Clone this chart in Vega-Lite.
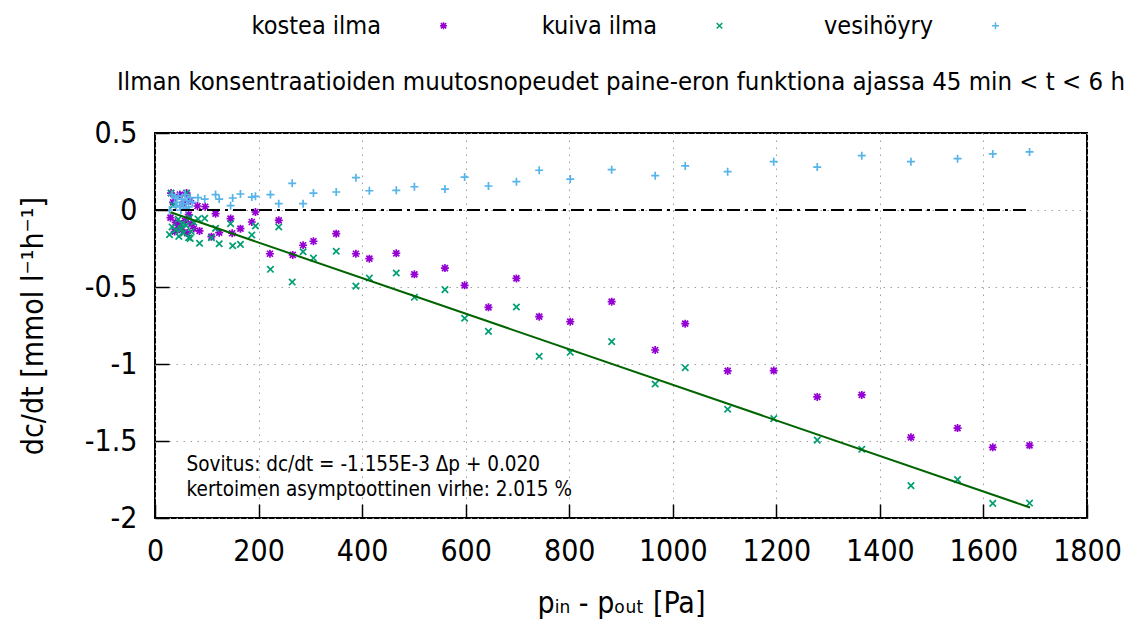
{
  "$schema": "https://vega.github.io/schema/vega-lite/v6.json",
  "width": 932,
  "height": 385,
  "autosize": {"type": "none"},
  "padding": {"left": 155, "top": 133, "right": 43, "bottom": 110},
  "background": "white",
  "title": {
    "text": "Ilman konsentraatioiden muutosnopeudet paine-eron funktiona ajassa 45 min < t < 6 h",
    "font": "DejaVu Sans Condensed",
    "fontSize": 25.5,
    "fontWeight": "normal",
    "color": "black",
    "anchor": "middle",
    "offset": -82
  },
  "datasets": {
    "pisteet": [
      {"sarja": "kostea ilma", "p": 31, "dc": 0.11},
      {"sarja": "kostea ilma", "p": 48, "dc": 0.10},
      {"sarja": "kostea ilma", "p": 61, "dc": 0.11},
      {"sarja": "kostea ilma", "p": 35, "dc": 0.05},
      {"sarja": "kostea ilma", "p": 55, "dc": 0.04},
      {"sarja": "kostea ilma", "p": 68, "dc": 0.06},
      {"sarja": "kostea ilma", "p": 30, "dc": -0.05},
      {"sarja": "kostea ilma", "p": 40, "dc": -0.08},
      {"sarja": "kostea ilma", "p": 45, "dc": -0.10},
      {"sarja": "kostea ilma", "p": 52, "dc": -0.13},
      {"sarja": "kostea ilma", "p": 58, "dc": -0.07},
      {"sarja": "kostea ilma", "p": 62, "dc": -0.15},
      {"sarja": "kostea ilma", "p": 70, "dc": -0.09},
      {"sarja": "kostea ilma", "p": 75, "dc": -0.12},
      {"sarja": "kostea ilma", "p": 38, "dc": -0.14},
      {"sarja": "kostea ilma", "p": 65, "dc": -0.03},
      {"sarja": "kostea ilma", "p": 82, "dc": 0.026},
      {"sarja": "kostea ilma", "p": 97, "dc": 0.021},
      {"sarja": "kostea ilma", "p": 117, "dc": -0.024},
      {"sarja": "kostea ilma", "p": 146, "dc": -0.056},
      {"sarja": "kostea ilma", "p": 86, "dc": -0.136},
      {"sarja": "kostea ilma", "p": 109, "dc": -0.173},
      {"sarja": "kostea ilma", "p": 124, "dc": -0.147},
      {"sarja": "kostea ilma", "p": 149, "dc": -0.151},
      {"sarja": "kostea ilma", "p": 165, "dc": -0.121},
      {"sarja": "kostea ilma", "p": 187, "dc": -0.078},
      {"sarja": "kostea ilma", "p": 194, "dc": -0.013},
      {"sarja": "kostea ilma", "p": 222, "dc": -0.284},
      {"sarja": "kostea ilma", "p": 239, "dc": -0.067},
      {"sarja": "kostea ilma", "p": 266, "dc": -0.292},
      {"sarja": "kostea ilma", "p": 286, "dc": -0.229},
      {"sarja": "kostea ilma", "p": 306, "dc": -0.203},
      {"sarja": "kostea ilma", "p": 350, "dc": -0.154},
      {"sarja": "kostea ilma", "p": 388, "dc": -0.284},
      {"sarja": "kostea ilma", "p": 414, "dc": -0.316},
      {"sarja": "kostea ilma", "p": 466, "dc": -0.281},
      {"sarja": "kostea ilma", "p": 501, "dc": -0.418},
      {"sarja": "kostea ilma", "p": 560, "dc": -0.377},
      {"sarja": "kostea ilma", "p": 598, "dc": -0.489},
      {"sarja": "kostea ilma", "p": 644, "dc": -0.632},
      {"sarja": "kostea ilma", "p": 698, "dc": -0.444},
      {"sarja": "kostea ilma", "p": 742, "dc": -0.693},
      {"sarja": "kostea ilma", "p": 802, "dc": -0.725},
      {"sarja": "kostea ilma", "p": 882, "dc": -0.595},
      {"sarja": "kostea ilma", "p": 966, "dc": -0.909},
      {"sarja": "kostea ilma", "p": 1024, "dc": -0.738},
      {"sarja": "kostea ilma", "p": 1106, "dc": -1.045},
      {"sarja": "kostea ilma", "p": 1195, "dc": -1.043},
      {"sarja": "kostea ilma", "p": 1279, "dc": -1.214},
      {"sarja": "kostea ilma", "p": 1365, "dc": -1.201},
      {"sarja": "kostea ilma", "p": 1460, "dc": -1.476},
      {"sarja": "kostea ilma", "p": 1550, "dc": -1.416},
      {"sarja": "kostea ilma", "p": 1618, "dc": -1.541},
      {"sarja": "kostea ilma", "p": 1689, "dc": -1.528},
      {"sarja": "kuiva ilma", "p": 31, "dc": 0.11},
      {"sarja": "kuiva ilma", "p": 61, "dc": 0.11},
      {"sarja": "kuiva ilma", "p": 35, "dc": 0.03},
      {"sarja": "kuiva ilma", "p": 45, "dc": -0.06},
      {"sarja": "kuiva ilma", "p": 50, "dc": -0.12},
      {"sarja": "kuiva ilma", "p": 55, "dc": -0.15},
      {"sarja": "kuiva ilma", "p": 60, "dc": -0.10},
      {"sarja": "kuiva ilma", "p": 65, "dc": -0.18},
      {"sarja": "kuiva ilma", "p": 70, "dc": -0.14},
      {"sarja": "kuiva ilma", "p": 40, "dc": -0.13},
      {"sarja": "kuiva ilma", "p": 33, "dc": -0.11},
      {"sarja": "kuiva ilma", "p": 75, "dc": -0.08},
      {"sarja": "kuiva ilma", "p": 28, "dc": -0.16},
      {"sarja": "kuiva ilma", "p": 52, "dc": -0.09},
      {"sarja": "kuiva ilma", "p": 67, "dc": -0.05},
      {"sarja": "kuiva ilma", "p": 83, "dc": -0.058},
      {"sarja": "kuiva ilma", "p": 96, "dc": -0.054},
      {"sarja": "kuiva ilma", "p": 46, "dc": -0.171},
      {"sarja": "kuiva ilma", "p": 68, "dc": -0.184},
      {"sarja": "kuiva ilma", "p": 86, "dc": -0.216},
      {"sarja": "kuiva ilma", "p": 109, "dc": -0.18},
      {"sarja": "kuiva ilma", "p": 124, "dc": -0.219},
      {"sarja": "kuiva ilma", "p": 117, "dc": -0.119},
      {"sarja": "kuiva ilma", "p": 146, "dc": -0.089},
      {"sarja": "kuiva ilma", "p": 150, "dc": -0.232},
      {"sarja": "kuiva ilma", "p": 165, "dc": -0.223},
      {"sarja": "kuiva ilma", "p": 187, "dc": -0.162},
      {"sarja": "kuiva ilma", "p": 194, "dc": -0.104},
      {"sarja": "kuiva ilma", "p": 223, "dc": -0.385},
      {"sarja": "kuiva ilma", "p": 239, "dc": -0.11},
      {"sarja": "kuiva ilma", "p": 265, "dc": -0.468},
      {"sarja": "kuiva ilma", "p": 286, "dc": -0.271},
      {"sarja": "kuiva ilma", "p": 306, "dc": -0.312},
      {"sarja": "kuiva ilma", "p": 350, "dc": -0.268},
      {"sarja": "kuiva ilma", "p": 388, "dc": -0.494},
      {"sarja": "kuiva ilma", "p": 414, "dc": -0.442},
      {"sarja": "kuiva ilma", "p": 466, "dc": -0.409},
      {"sarja": "kuiva ilma", "p": 501, "dc": -0.567},
      {"sarja": "kuiva ilma", "p": 560, "dc": -0.517},
      {"sarja": "kuiva ilma", "p": 598, "dc": -0.703},
      {"sarja": "kuiva ilma", "p": 644, "dc": -0.788},
      {"sarja": "kuiva ilma", "p": 698, "dc": -0.63},
      {"sarja": "kuiva ilma", "p": 742, "dc": -0.95},
      {"sarja": "kuiva ilma", "p": 802, "dc": -0.924},
      {"sarja": "kuiva ilma", "p": 882, "dc": -0.855},
      {"sarja": "kuiva ilma", "p": 966, "dc": -1.13},
      {"sarja": "kuiva ilma", "p": 1024, "dc": -1.024},
      {"sarja": "kuiva ilma", "p": 1106, "dc": -1.294},
      {"sarja": "kuiva ilma", "p": 1195, "dc": -1.355},
      {"sarja": "kuiva ilma", "p": 1279, "dc": -1.494},
      {"sarja": "kuiva ilma", "p": 1365, "dc": -1.554},
      {"sarja": "kuiva ilma", "p": 1460, "dc": -1.79},
      {"sarja": "kuiva ilma", "p": 1550, "dc": -1.751},
      {"sarja": "kuiva ilma", "p": 1618, "dc": -1.905},
      {"sarja": "kuiva ilma", "p": 1689, "dc": -1.903},
      {"sarja": "vesihöyry", "p": 28, "dc": 0.0},
      {"sarja": "vesihöyry", "p": 33, "dc": 0.10},
      {"sarja": "vesihöyry", "p": 38, "dc": 0.08},
      {"sarja": "vesihöyry", "p": 42, "dc": 0.05},
      {"sarja": "vesihöyry", "p": 45, "dc": 0.09},
      {"sarja": "vesihöyry", "p": 48, "dc": 0.03},
      {"sarja": "vesihöyry", "p": 52, "dc": 0.07},
      {"sarja": "vesihöyry", "p": 55, "dc": 0.04},
      {"sarja": "vesihöyry", "p": 58, "dc": 0.10},
      {"sarja": "vesihöyry", "p": 62, "dc": 0.06},
      {"sarja": "vesihöyry", "p": 65, "dc": 0.02},
      {"sarja": "vesihöyry", "p": 68, "dc": 0.08},
      {"sarja": "vesihöyry", "p": 72, "dc": 0.05},
      {"sarja": "vesihöyry", "p": 40, "dc": 0.02},
      {"sarja": "vesihöyry", "p": 50, "dc": 0.0},
      {"sarja": "vesihöyry", "p": 60, "dc": 0.01},
      {"sarja": "vesihöyry", "p": 83, "dc": 0.08},
      {"sarja": "vesihöyry", "p": 96, "dc": 0.071},
      {"sarja": "vesihöyry", "p": 117, "dc": 0.10},
      {"sarja": "vesihöyry", "p": 124, "dc": 0.071},
      {"sarja": "vesihöyry", "p": 146, "dc": 0.028},
      {"sarja": "vesihöyry", "p": 150, "dc": 0.078},
      {"sarja": "vesihöyry", "p": 165, "dc": 0.104},
      {"sarja": "vesihöyry", "p": 187, "dc": 0.084},
      {"sarja": "vesihöyry", "p": 194, "dc": 0.089},
      {"sarja": "vesihöyry", "p": 223, "dc": 0.10},
      {"sarja": "vesihöyry", "p": 239, "dc": 0.041},
      {"sarja": "vesihöyry", "p": 265, "dc": 0.173},
      {"sarja": "vesihöyry", "p": 286, "dc": 0.041},
      {"sarja": "vesihöyry", "p": 306, "dc": 0.11},
      {"sarja": "vesihöyry", "p": 350, "dc": 0.117},
      {"sarja": "vesihöyry", "p": 388, "dc": 0.21},
      {"sarja": "vesihöyry", "p": 414, "dc": 0.125},
      {"sarja": "vesihöyry", "p": 466, "dc": 0.128},
      {"sarja": "vesihöyry", "p": 501, "dc": 0.151},
      {"sarja": "vesihöyry", "p": 560, "dc": 0.136},
      {"sarja": "vesihöyry", "p": 598, "dc": 0.214},
      {"sarja": "vesihöyry", "p": 644, "dc": 0.156},
      {"sarja": "vesihöyry", "p": 698, "dc": 0.184},
      {"sarja": "vesihöyry", "p": 742, "dc": 0.258},
      {"sarja": "vesihöyry", "p": 802, "dc": 0.201},
      {"sarja": "vesihöyry", "p": 882, "dc": 0.262},
      {"sarja": "vesihöyry", "p": 966, "dc": 0.223},
      {"sarja": "vesihöyry", "p": 1024, "dc": 0.286},
      {"sarja": "vesihöyry", "p": 1106, "dc": 0.249},
      {"sarja": "vesihöyry", "p": 1195, "dc": 0.314},
      {"sarja": "vesihöyry", "p": 1279, "dc": 0.279},
      {"sarja": "vesihöyry", "p": 1365, "dc": 0.353},
      {"sarja": "vesihöyry", "p": 1460, "dc": 0.314},
      {"sarja": "vesihöyry", "p": 1550, "dc": 0.333},
      {"sarja": "vesihöyry", "p": 1618, "dc": 0.364},
      {"sarja": "vesihöyry", "p": 1689, "dc": 0.377}
    ],
    "nolla": [
      {"p": 0, "dc": 0},
      {"p": 1690, "dc": 0}
    ],
    "sovitus": [
      {"p": 30, "dc": -0.0147},
      {"p": 1690, "dc": -1.932}
    ],
    "teksti": [
      {"t": "Sovitus: dc/dt = -1.155E-3 Δp + 0.020", "p": 61, "dc": -1.656},
      {"t": "kertoimen asymptoottinen virhe: 2.015 %", "p": 61, "dc": -1.818}
    ]
  },
  "layer": [
    {
      "data": {"name": "pisteet"},
      "mark": {"type": "point", "filled": false, "strokeWidth": 1.7, "size": 64, "opacity": 1},
      "encoding": {
        "x": {
          "field": "p",
          "type": "quantitative",
          "scale": {"domain": [0, 1800], "nice": false, "zero": false},
          "axis": {
            "title": "pᵢₙ - pₒᵤₜ [Pa]",
            "values": [0, 200, 400, 600, 800, 1000, 1200, 1400, 1600, 1800],
            "labelExpr": "format(datum.value, 'd')",
            "titlePadding": 22
          }
        },
        "y": {
          "field": "dc",
          "type": "quantitative",
          "scale": {"domain": [-2, 0.5], "nice": false, "zero": false},
          "axis": {
            "title": "dc/dt [mmol l⁻¹h⁻¹]",
            "values": [-2, -1.5, -1, -0.5, 0, 0.5],
            "labelExpr": "replace(format(datum.value, '~g'), '\u2212', '-')",
            "titlePadding": 36
          }
        },
        "color": {
          "field": "sarja",
          "type": "nominal",
          "scale": {"domain": ["kostea ilma", "kuiva ilma", "vesihöyry"], "range": ["#9400d3", "#009e73", "#56b4e9"]},
          "legend": {"title": null}
        },
        "shape": {
          "field": "sarja",
          "type": "nominal",
          "scale": {
            "domain": ["kostea ilma", "kuiva ilma", "vesihöyry"],
            "range": [
              "M-1,0L1,0M0,-1L0,1M-0.75,-0.75L0.75,0.75M-0.75,0.75L0.75,-0.75",
              "M-0.8,-0.8L0.8,0.8M-0.8,0.8L0.8,-0.8",
              "M-1,0L1,0M0,-1L0,1"
            ]
          },
          "legend": {"title": null}
        }
      }
    },
    {
      "data": {"name": "nolla"},
      "mark": {"type": "line", "color": "black", "strokeWidth": 2, "strokeDash": [13, 5, 3, 5]},
      "encoding": {
        "x": {"field": "p", "type": "quantitative"},
        "y": {"field": "dc", "type": "quantitative"}
      }
    },
    {
      "data": {"name": "sovitus"},
      "mark": {"type": "line", "color": "#006400", "strokeWidth": 2},
      "encoding": {
        "x": {"field": "p", "type": "quantitative"},
        "y": {"field": "dc", "type": "quantitative"}
      }
    },
    {
      "data": {"name": "teksti"},
      "mark": {"type": "text", "align": "left", "baseline": "middle", "font": "DejaVu Sans Condensed", "fontSize": 20.5, "color": "black"},
      "encoding": {
        "x": {"field": "p", "type": "quantitative"},
        "y": {"field": "dc", "type": "quantitative"},
        "text": {"field": "t", "type": "nominal"}
      }
    }
  ],
  "config": {
    "font": "DejaVu Sans Condensed",
    "view": {"stroke": "black", "strokeWidth": 2},
    "axis": {
      "domain": false,
      "grid": true,
      "gridColor": "#a0a0a0",
      "gridDash": [1.5, 5.5],
      "gridWidth": 1,
      "tickColor": "black",
      "tickWidth": 1.5,
      "tickSize": -14,
      "labelFont": "DejaVu Sans Condensed",
      "labelFontSize": 30,
      "labelColor": "black",
      "labelPadding": 32,
      "labelFlush": false,
      "labelOverlap": false,
      "titleFont": "DejaVu Sans Condensed",
      "titleFontSize": 30,
      "titleFontWeight": "normal",
      "titleColor": "black"
    },
    "legend": {
      "orient": "none",
      "legendX": 276,
      "legendY": -120,
      "direction": "horizontal",
      "columns": 3,
      "gridAlign": "all",
      "columnPadding": 91,
      "labelFont": "DejaVu Sans Condensed",
      "labelFontSize": 25,
      "labelColor": "black",
      "labelAlign": "right",
      "labelOffset": -75,
      "symbolStrokeWidth": 1.5,
      "symbolSize": 49,
      "symbolType": "circle"
    }
  }
}
